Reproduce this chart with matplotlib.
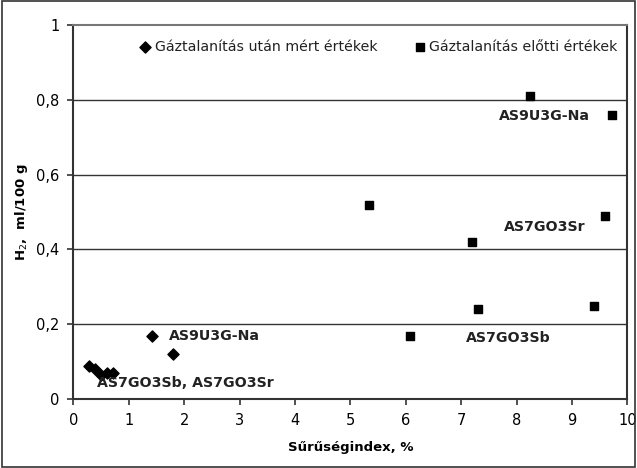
import matplotlib
matplotlib.use("Agg")
import matplotlib.pyplot as plt

# after degassing (diamonds)
after_x = [0.28, 0.4, 0.5, 0.6, 0.72, 1.42, 1.8]
after_y = [0.09, 0.08, 0.065, 0.07, 0.07, 0.17, 0.12]

# before degassing (squares)
before_x = [5.33, 6.08, 7.2, 7.3, 8.25, 9.4, 9.6, 9.73]
before_y = [0.52, 0.17, 0.42, 0.24, 0.81, 0.25, 0.49, 0.76]

x_ticks = [0, 1, 2, 3, 4, 5, 6, 7, 8, 9, 10]
y_ticks = [0, 0.2, 0.4, 0.6, 0.8, 1]
y_labels = ["0", "0,2", "0,4", "0,6", "0,8", "1"]

fig = plt.figure(figsize=(6.37, 4.68), dpi=100)
ax = fig.add_axes([0.115, 0.147, 0.87, 0.8])

ax.scatter(after_x, after_y, marker="D", s=32, color="black", zorder=3)
ax.scatter(before_x, before_y, marker="s", s=34, color="black", zorder=3)

ax.set_xlim(0, 10)
ax.set_ylim(0, 1)
ax.set_xticks(x_ticks)
ax.set_yticks(y_ticks)
ax.set_yticklabels(y_labels)
for y in y_ticks[1:-1]:
    ax.axhline(y, color="#333333", lw=1.0, zorder=1)

for s in ["left", "bottom", "right"]:
    ax.spines[s].set_color("#333333")
    ax.spines[s].set_linewidth(1.5)
ax.spines["top"].set_color("#777777")
ax.spines["top"].set_linewidth(1.5)
ax.tick_params(direction="out", length=4, width=1.2, color="#333333",
               labelsize=10.5, pad=6)

ax.set_xlabel("Sűrűségindex, %", fontsize=9.5, fontweight="bold", labelpad=9)
ax.set_ylabel("H$_2$,  ml/100 g", fontsize=9.5, fontweight="bold", labelpad=4)

bold = dict(fontsize=10.2, fontweight="bold", color="#222222")
ax.text(1.72, 0.17, "AS9U3G-Na", va="center", ha="left", **bold)
ax.text(0.42, 0.043, "AS7GO3Sb, AS7GO3Sr", va="center", ha="left", **bold)
ax.text(8.5, 0.757, "AS9U3G-Na", va="center", ha="center", **bold)
ax.text(8.5, 0.46, "AS7GO3Sr", va="center", ha="center", **bold)
ax.text(7.85, 0.163, "AS7GO3Sb", va="center", ha="center", **bold)

# legend drawn as two entries along the top
ax.scatter([1.3], [0.94], marker="D", s=32, color="black", zorder=3)
ax.text(1.48, 0.94, "Gáztalanítás után mért értékek", va="center", fontsize=10.2, color="#222222")
ax.scatter([6.25], [0.94], marker="s", s=28, color="black", zorder=3)
ax.text(6.42, 0.94, "Gáztalanítás előtti értékek", va="center", fontsize=10.2, color="#222222")

# figure frame
fig.patches.append(plt.Rectangle((0.003, 0.003), 0.994, 0.994, transform=fig.transFigure,
                                 fill=False, edgecolor="#333333", lw=1.2))

fig.savefig("out.png", dpi=100)
